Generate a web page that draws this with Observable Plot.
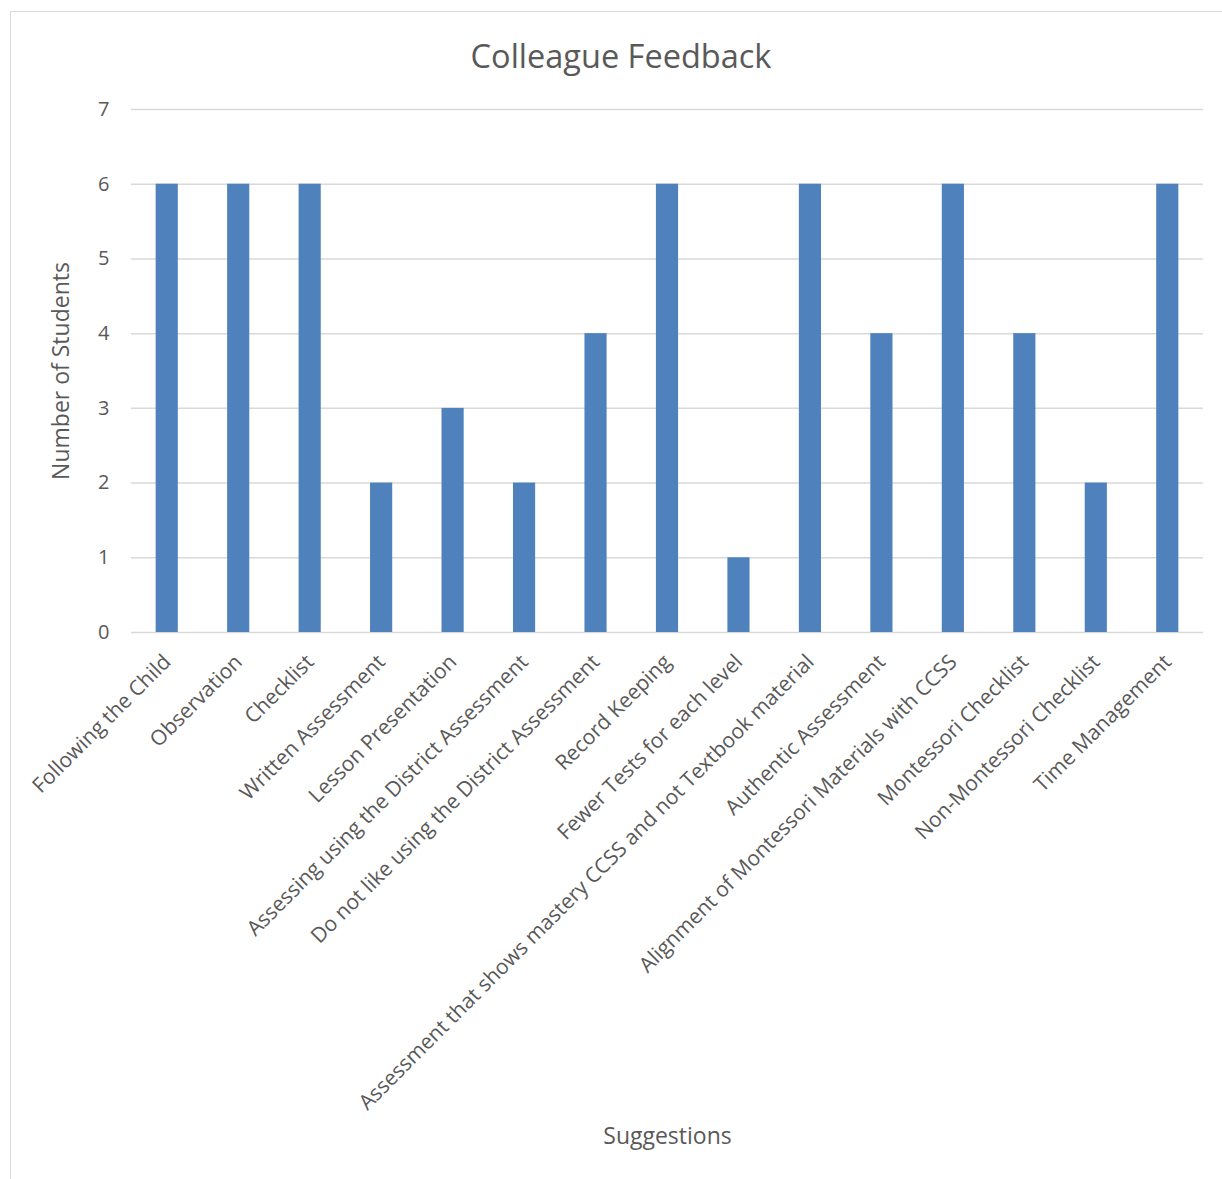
<!DOCTYPE html>
<html>
<head>
<meta charset="utf-8">
<script src="https://cdn.jsdelivr.net/npm/d3@7"></script>
<script src="https://cdn.jsdelivr.net/npm/@observablehq/plot@0.6"></script>
<style>
  html, body { margin: 0; padding: 0; background: #fff; }
  body { width: 1222px; height: 1179px; position: relative; overflow: hidden; font-family: "Open Sans", sans-serif; }
  #frame { position: absolute; left: 10px; top: 11px; width: 1230px; height: 1200px; border: 1px solid #d9d9d9; box-sizing: border-box; }
  #title { position: absolute; left: 0; width: 1242px; top: 33px; text-align: center; font-size: 32.5px; color: #595959; }
  #chart { position: absolute; left: 0; top: 0; }
  #chart svg g[aria-label="x-axis label"],
  #chart svg g[aria-label="y-axis label"] { font-size: 23px; }
</style>
</head>
<body>
<div id="frame"></div>
<div id="chart"></div>
<div id="title">Colleague Feedback</div>
<script>
const categories = [
  "Following the Child",
  "Observation",
  "Checklist",
  "Written Assessment",
  "Lesson Presentation",
  "Assessing using the District Assessment",
  "Do not like using the District Assessment",
  "Record Keeping",
  "Fewer Tests for each level",
  "Assessment that shows mastery CCSS and not Textbook material",
  "Authentic Assessment",
  "Alignment of Montessori Materials with CCSS",
  "Montessori Checklist",
  "Non-Montessori Checklist",
  "Time Management"
];
const values = [6, 6, 6, 2, 3, 2, 4, 6, 1, 6, 4, 6, 4, 2, 6];
const yTicks = [0, 1, 2, 3, 4, 5, 6, 7];
const yLabel = "Number of Students";
const xLabel = "Suggestions";

const data = categories.map((c, i) => ({category: c, value: values[i]}));

const chart = Plot.plot({
  width: 1222,
  height: 1179,
  marginLeft: 131,
  marginRight: 19,
  marginTop: 109,
  marginBottom: 547,
  style: {fontFamily: "Open Sans", color: "#595959", background: "transparent", overflow: "visible"},
  x: {domain: categories, paddingInner: 0.69, paddingOuter: 0.345, round: false},
  y: {domain: [0, 7]},
  marks: [
    Plot.gridY(yTicks, {stroke: "#d9d9d9", strokeOpacity: 1, strokeWidth: 1.5}),
    Plot.barY(data, {x: "category", y: "value", fill: "#4f81bd"}),
    Plot.axisY(yTicks, {tickSize: 0, tickPadding: 22, fontSize: 20, tickFormat: d => String(d), label: yLabel, labelArrow: "none", labelAnchor: "center", labelOffset: 79}),
    Plot.axisX({tickSize: 0, tickPadding: 26, tickRotate: -45, fontSize: 21, label: xLabel, labelArrow: "none", labelAnchor: "center", labelOffset: 511})
  ]
});
document.getElementById("chart").appendChild(chart);
</script>
</body>
</html>
